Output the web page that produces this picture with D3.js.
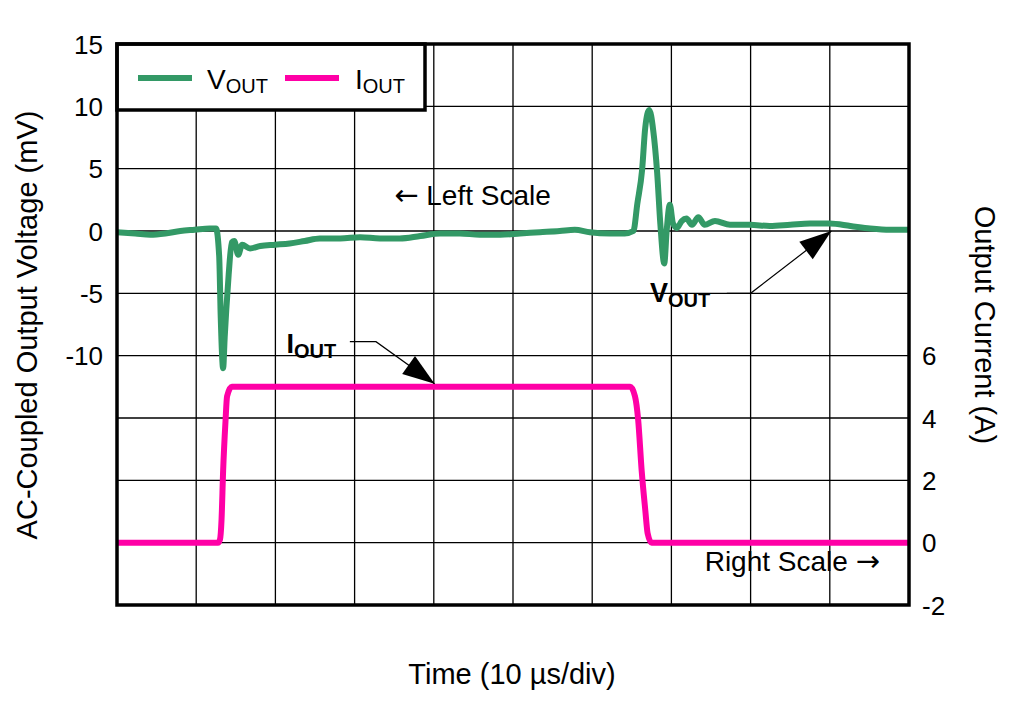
<!DOCTYPE html>
<html>
<head>
<meta charset="utf-8">
<script src="https://cdn.jsdelivr.net/npm/d3@7"></script>
<style>
  body { margin: 0; background: #fff; }
  svg { font-family: "Liberation Sans", Arial, sans-serif; }
</style>
</head>
<body>
<svg id="chart" width="1014" height="701"></svg>
<script>
// time in us (10 us/div), vout in mV (AC-coupled), iout in A
var voutT = [0, 2.3, 4.2, 6.1, 8.0, 9.8, 11.7, 12.5, 12.9, 13.1, 13.4, 13.6, 13.8, 14.1, 14.5, 14.8, 15.3, 15.8,
  16.8, 18.1, 20.0, 21.8, 23.7, 25.6, 28.2, 30.7, 33.2, 35.7, 38.3, 40.8, 43.3, 45.8, 48.4, 50.9, 53.4, 55.9,
  57.8, 59.7, 62.2, 64.1, 65.2, 65.7, 66.3, 66.7, 67.2, 67.7, 68.2, 68.6, 69.1, 69.4, 69.8, 70.2, 70.7, 71.3,
  71.9, 72.6, 73.4, 74.2, 75.5, 77.4, 79.9, 82.4, 85.0, 87.5, 90.0, 92.6, 95.1, 97.6, 100]
var voutV = [-0.1, -0.2, -0.3, -0.2, 0.0, 0.1, 0.2, 0.2, -2, -7, -11.0, -8.5, -6.3, -3.5, -0.9, -0.8, -1.9, -1.1,
  -1.4, -1.2, -1.1, -1.0, -0.8, -0.6, -0.6, -0.5, -0.6, -0.6, -0.4, -0.2, -0.2, -0.3, -0.3, -0.2, -0.1, 0.0,
  0.1, -0.1, -0.2, -0.2, 0.0, 2.2, 4.9, 8.3, 9.7, 8.1, 4.7, 0.6, -2.6, 0.0, 2.1, 0.6, 0.25, 0.8,
  1.0, 0.5, 1.1, 0.5, 0.8, 0.5, 0.5, 0.4, 0.5, 0.6, 0.6, 0.4, 0.2, 0.1, 0.1]

var ioutT = [0, 12.75, 13.0, 13.2, 13.4, 13.7, 13.9, 14.5, 64.8, 65.4, 65.8, 66.25, 66.7, 67.0, 67.5, 100]
var ioutA = [0, 0, 0.1, 0.74, 2.3, 3.9, 4.7, 5.0, 5.0, 4.7, 3.95, 2.3, 1.05, 0.3, 0, 0]

var timeTicks = d3.range(0, 101, 10)
var leftGrid = d3.range(-30, 16, 5)
var leftLabels = [15, 10, 5, 0, -5, -10]
var rightLabels = [6, 4, 2, 0, -2]

var margin = { top: 44, right: 105, bottom: 96, left: 117 },
  width = 1014 - margin.left - margin.right,
  height = 701 - margin.top - margin.bottom

var green = "#339966", pink = "#ff00a6"

var svg = d3.select("#chart")
var g = svg.append("g").attr("transform", "translate(" + margin.left + "," + margin.top + ")")

var x = d3.scaleLinear().domain([0, 100]).range([0, width])
var yL = d3.scaleLinear().domain([-30, 15]).range([height, 0])
var yR = d3.scaleLinear().domain([-2, 16]).range([height, 0])

// grid
g.selectAll("line.vgrid").data(timeTicks).enter().append("line")
  .attr("x1", d => x(d)).attr("x2", d => x(d))
  .attr("y1", 0).attr("y2", height)
  .attr("stroke", "#000").attr("stroke-width", 1.3)
g.selectAll("line.hgrid").data(leftGrid).enter().append("line")
  .attr("x1", 0).attr("x2", width)
  .attr("y1", d => yL(d)).attr("y2", d => yL(d))
  .attr("stroke", "#000").attr("stroke-width", 1.3)

// traces
var vData = voutT.map((t, i) => [t, voutV[i]])
var iData = ioutT.map((t, i) => [t, ioutA[i]])

g.append("path").datum(iData)
  .attr("fill", "none").attr("stroke", pink).attr("stroke-width", 6)
  .attr("stroke-linejoin", "round")
  .attr("d", d3.line().x(d => x(d[0])).y(d => yR(d[1])).curve(d3.curveMonotoneX))

g.append("path").datum(vData)
  .attr("fill", "none").attr("stroke", green).attr("stroke-width", 6)
  .attr("stroke-linejoin", "round")
  .attr("d", d3.line().x(d => x(d[0])).y(d => yL(d[1])).curve(d3.curveMonotoneX))

// legend
var leg = g.append("g")
leg.append("rect").attr("x", 0).attr("y", 0).attr("width", 308).attr("height", 66)
  .attr("fill", "#fff").attr("stroke", "#000").attr("stroke-width", 3.5)
var legItems = [{ name: "V", color: green, lx: 21, tx: 90 }, { name: "I", color: pink, lx: 168, tx: 238 }]
legItems.forEach(function(it) {
  leg.append("line").attr("x1", it.lx).attr("x2", it.lx + 54).attr("y1", 34).attr("y2", 34)
    .attr("stroke", it.color).attr("stroke-width", 6)
  var t = leg.append("text").attr("x", it.tx).attr("y", 45).attr("font-size", 28)
  t.append("tspan").text(it.name)
  t.append("tspan").attr("font-size", 20).attr("dy", 4).text("OUT")
})

// frame
g.append("rect").attr("x", 0).attr("y", 0).attr("width", width).attr("height", height)
  .attr("fill", "none").attr("stroke", "#000").attr("stroke-width", 3.5)

// tick labels
svg.selectAll("text.ly").data(leftLabels).enter().append("text")
  .attr("x", margin.left - 14).attr("y", d => margin.top + yL(d) + 9.5)
  .attr("text-anchor", "end").attr("font-size", 26).text(d => d)
svg.selectAll("text.ry").data(rightLabels).enter().append("text")
  .attr("x", margin.left + width + 13).attr("y", d => margin.top + yR(d) + 9.5)
  .attr("text-anchor", "start").attr("font-size", 26).text(d => d)

// axis titles
svg.append("text").attr("transform", "translate(37," + (margin.top + 281) + ") rotate(-90)")
  .attr("text-anchor", "middle").attr("font-size", 29).text("AC-Coupled Output Voltage (mV)")
svg.append("text").attr("transform", "translate(975," + (margin.top + 281) + ") rotate(90)")
  .attr("text-anchor", "middle").attr("font-size", 29).text("Output Current (A)")
svg.append("text").attr("x", margin.left + width / 2 - 1).attr("y", 684)
  .attr("text-anchor", "middle").attr("font-size", 29).text("Time (10 \u00b5s/div)")

// annotations
var lt = g.append("text").attr("x", x(35.0)).attr("y", yL(2.1)).attr("font-size", 28)
lt.append("tspan").attr("font-family", "DejaVu Sans").attr("font-size", 29).text("\u2190")
lt.append("tspan").text(" Left Scale")
var rt = g.append("text").attr("x", x(74.2)).attr("y", yR(-0.9)).attr("font-size", 28)
rt.append("tspan").text("Right Scale ")
rt.append("tspan").attr("font-family", "DejaVu Sans").attr("font-size", 29).text("\u2192")

function callout(label, tx, ty, pts) {
  var t = g.append("text").attr("x", tx).attr("y", ty).attr("font-size", 27).attr("font-weight", "bold")
  t.append("tspan").text(label)
  t.append("tspan").attr("font-size", 20).attr("dy", 5).text("OUT")
  g.append("polyline").attr("points", pts.slice(0, 3).map(p => p.join(",")).join(" "))
    .attr("fill", "none").attr("stroke", "#000").attr("stroke-width", 1.2)
  // arrow head
  var a = pts[1], b = pts[2]
  var ang = Math.atan2(b[1] - a[1], b[0] - a[0])
  var len = 32, half = 11
  var bx = b[0] - len * Math.cos(ang), by = b[1] - len * Math.sin(ang)
  var px = -Math.sin(ang) * half, py = Math.cos(ang) * half
  g.append("polygon")
    .attr("points", [[b[0], b[1]], [bx + px, by + py], [bx - px, by - py]].map(p => p.join(",")).join(" "))
    .attr("fill", "#000")
}

callout("V", x(67.3), yL(-5.7),
  [[x(77.0), yL(-5.0)], [x(80.0), yL(-5.0)], [x(90.2), yL(0.0)]])
callout("I", x(21.4), yR(6.1),
  [[x(29.4), yR(6.45)], [x(32.7), yR(6.45)], [x(40.1), yR(5.1)]])
</script>
</body>
</html>
